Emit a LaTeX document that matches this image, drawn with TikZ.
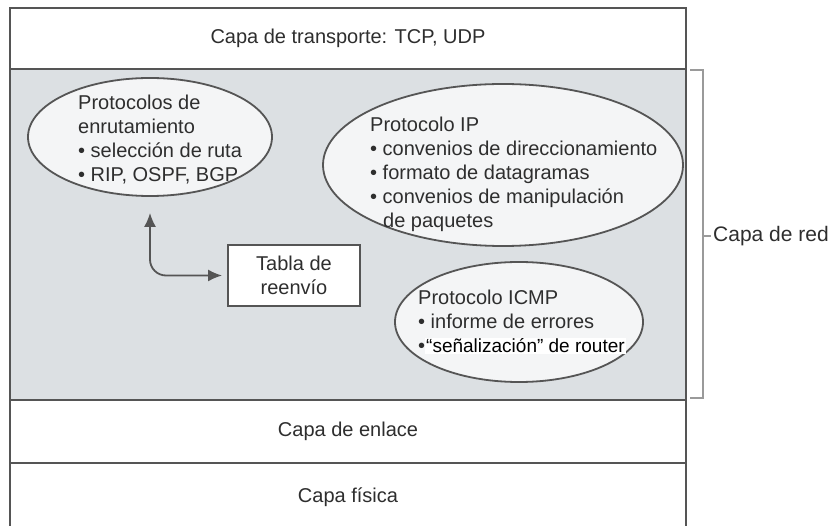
\documentclass[tikz,border=0pt]{standalone}
\usepackage{fontspec}
\setmainfont{Liberation Sans}
\usetikzlibrary{arrows.meta,positioning,shapes.geometric}
\definecolor{ink}{HTML}{2E2E2E}
\definecolor{rule}{HTML}{555555}
\definecolor{netgray}{HTML}{DCE0E3}
\definecolor{oval}{HTML}{F4F5F6}
\definecolor{brk}{HTML}{9A9A9A}
\tikzset{layer/.style={draw=rule,line width=2pt,minimum width=676pt,inner sep=0pt,
 font=\fontsize{20}{24}\selectfont,text=ink},
 proto/.style={ellipse,draw=rule,line width=1.8pt,fill=oval,inner sep=0pt},
 txt/.style={align=left,anchor=north west,inner sep=0pt,font=\fontsize{20}{24}\selectfont,text=ink},
 tabla/.style={draw=rule,fill=white,line width=1.8pt,minimum width=132pt,minimum height=61pt,
 align=center,font=\fontsize{20}{24}\selectfont,text=ink},
 arr/.style={{Latex[length=14pt,width=12pt]}-{Latex[length=14pt,width=12pt]},line width=1.8pt,
 draw=rule,rounded corners=16pt},
 brace/.style={draw=brk,line width=1.2pt}}
\setlength{\fboxsep}{1pt}

\begin{document}
\begin{tikzpicture}[x=1pt,y=-1pt]
\useasboundingbox (0,0) rectangle (833,526);
\clip (0,0) rectangle (833,526);
% layers
\node[layer,minimum height=331pt,fill=netgray] (red) at (348,234.5) {};
\node[layer,minimum height=61pt,fill=white] (transp) at (348,38.5) {Capa de transporte: TCP, UDP};
\node[layer,minimum height=63pt,fill=white] (enlace) at (348,431.5) {Capa de enlace};
\node[layer,minimum height=68pt,fill=white] (fisica) at (348,497) {Capa física};
% network layer contents
\node[proto,minimum width=244pt,minimum height=118pt] (rout) at (150,137) {};
\node[txt] (routtxt) at (78,95) {Protocolos de\\enrutamiento\\• selección de ruta\\• RIP, OSPF, BGP};
\node[proto,minimum width=360pt,minimum height=162pt] (ip) at (503,165) {};
\node[txt] (iptxt) at (370,117) {Protocolo IP\\• convenios de direccionamiento\\• formato de datagramas\\
 • convenios de manipulación\\\hspace*{13pt}de paquetes};
\node[proto,minimum width=248pt,minimum height=120pt] (icmp) at (519,322) {};
\node[txt] (icmptxt) at (418,290) {Protocolo ICMP\\• informe de errores\\
 •\colorbox{white}{\fontsize{19}{24}\selectfont\color{black}“señalización” de router}};
\node[tabla] (tabla) at (294,275.5) {Tabla de\\reenvío};
\draw[arr,shorten <=16pt,shorten >=5pt] (rout.south) |- (tabla.west);
% bracket
\coordinate (brtop) at (690,70);
\coordinate (brbot) at (690,398);
\coordinate (brmid) at (703,236);
\draw[brace] (brtop) -| (brmid) |- (brbot);
\draw[brace] (brmid) -- ++(8,0) coordinate (tick);
\node[right=2pt of tick,inner sep=0pt,font=\fontsize{21}{24}\selectfont,text=ink] (redlbl) {Capa de red};
\end{tikzpicture}
\end{document}
